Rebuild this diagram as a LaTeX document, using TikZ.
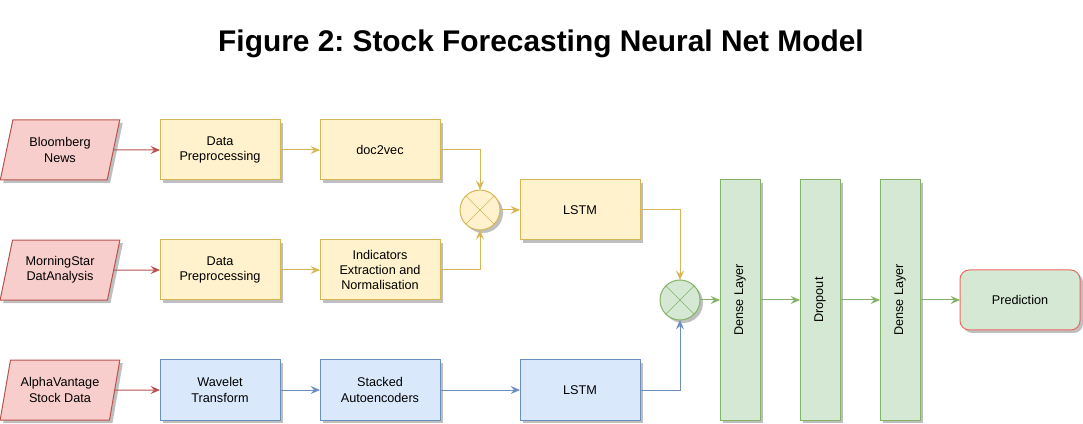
\documentclass[tikz,border=0pt]{standalone}
\usepackage{fontspec}
\setmainfont{Liberation Sans}
\usepackage{tikz}
\usetikzlibrary{positioning, arrows.meta, shapes.geometric, shadows}
\definecolor{redfill}{HTML}{F8CECC}
\definecolor{redline}{HTML}{B85450}
\definecolor{yelfill}{HTML}{FFF2CC}
\definecolor{yelline}{HTML}{D6B656}
\definecolor{bluefill}{HTML}{DAE8FC}
\definecolor{blueline}{HTML}{6C8EBF}
\definecolor{grnfill}{HTML}{D5E8D4}
\definecolor{grnline}{HTML}{82B366}
\definecolor{predline}{HTML}{EA6B66}
\tikzset{
  pnode/.style={draw, line width=0.75pt, align=center, font=\fontsize{9.5}{11.5}\selectfont, inner sep=0pt, outer sep=0pt, minimum width=90pt, minimum height=45pt, drop shadow={shadow xshift=2.25pt, shadow yshift=-2.25pt, fill=black!25, opacity=1}},
  src/.style={pnode, trapezium, trapezium left angle=71.6, trapezium right angle=108.4, trapezium stretches=true, fill=redfill, draw=redline},
  txt/.style={pnode, fill=yelfill, draw=yelline},
  price/.style={pnode, fill=bluefill, draw=blueline},
  layer/.style={pnode, fill=grnfill, draw=grnline, minimum width=30pt, minimum height=180pt},
  outp/.style={pnode, fill=grnfill, draw=predline, rounded corners=7pt},
  op/.style={pnode, circle, minimum width=30pt, minimum height=30pt, draw=#1, path picture={\draw[#1, line width=0.4pt] (path picture bounding box.north west) -- (path picture bounding box.south east) (path picture bounding box.north east) -- (path picture bounding box.south west);}},
  arr/.style={-{Stealth[length=7pt, width=6pt, inset=2.5pt]}, line width=0.75pt},
}
\begin{document}
\frenchspacing
\begin{tikzpicture}[x=0.75pt, y=-0.75pt, node distance=30pt]
\useasboundingbox (0,0) rectangle (1083,424);
\node[font=\bfseries\fontsize{22.4}{26}\selectfont] (title) at (541,44) {Figure 2: Stock Forecasting Neural Net Model};
% news row
\node[src] (bbg) at (60,150) {Bloomberg\\News};
\node[txt] (pre1) at (220,150) {Data\\Preprocessing};
\node[txt, right=of pre1] (d2v) {doc2vec};
% fundamentals row
\node[src, below=45pt of bbg] (ms) {MorningStar\\DatAnalysis};
\node[txt, below=45pt of pre1] (pre2) {Data\\Preprocessing};
\node[txt, right=of pre2] (ind) {Indicators\\Extraction and\\Normalisation};
% price row
\node[src, below=45pt of ms] (av) {AlphaVantage\\Stock Data};
\node[price, below=45pt of pre2] (wav) {Wavelet\\Transform};
\node[price, right=of wav] (sae) {Stacked\\Autoencoders};
\node[price, right=60pt of sae] (lstm2) {LSTM};
% merge and head
\node[op=yelline, fill=yelfill] (mix1) at (480,210) {};
\node[txt, right=15pt of mix1] (lstm1) {LSTM};
\node[op=grnline, fill=grnfill] (mix2) at (680,300) {};
\node[layer, right=15pt of mix2] (dense1) {\rotatebox{90}{Dense Layer}};
\node[layer, right=of dense1] (drop) {\rotatebox{90}{Dropout}};
\node[layer, right=of drop] (dense2) {\rotatebox{90}{Dense Layer}};
\node[outp, right=of dense2] (pred) {Prediction};
\draw[arr, redline] (bbg) -- (pre1);
\draw[arr, redline] (ms) -- (pre2);
\draw[arr, redline] (av) -- (wav);
\draw[arr, yelline] (pre1) -- (d2v);
\draw[arr, yelline] (pre2) -- (ind);
\draw[arr, yelline] (d2v.east) -| (mix1.north);
\draw[arr, yelline] (ind.east) -| (mix1.south);
\draw[arr, yelline] (mix1) -- (lstm1);
\draw[arr, yelline] (lstm1.east) -| (mix2.north);
\draw[arr, blueline] (wav) -- (sae);
\draw[arr, blueline] (sae) -- (lstm2);
\draw[arr, blueline] (lstm2.east) -| (mix2.south);
\draw[arr, grnline] (mix2) -- (dense1);
\draw[arr, grnline] (dense1) -- (drop);
\draw[arr, grnline] (drop) -- (dense2);
\draw[arr, grnline] (dense2) -- (pred);
\end{tikzpicture}
\end{document}
